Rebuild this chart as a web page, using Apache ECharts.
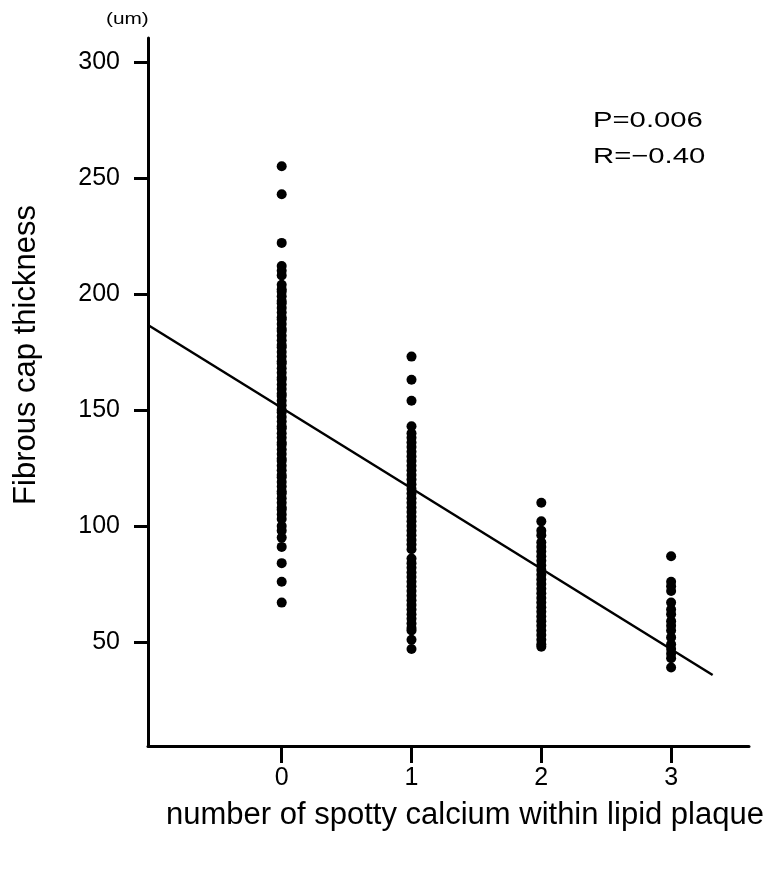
<!DOCTYPE html>
<html>
<head>
<meta charset="utf-8">
<script src="https://cdn.jsdelivr.net/npm/echarts@6/dist/echarts.min.js"></script>
<style>html,body{margin:0;padding:0;background:#fff}#c{width:782px;height:875px}</style>
</head>
<body>
<div id="c"></div>
<script>
const xTicks = [0, 1, 2, 3];
const yTicks = [50, 100, 150, 200, 250, 300];
const col0 = [255, 243, 222, 212, 210, 208, 204, 202, 201, 199, 197, 196, 194, 192, 190, 189, 187, 185, 184, 182, 180, 178, 177, 175, 173, 171, 170, 168, 166, 164, 163, 161, 159, 157, 156, 154, 152, 150, 149, 147, 145, 143, 142, 140, 138, 136, 135, 133, 131, 129, 128, 126, 124, 122, 121, 119, 117, 115, 114, 112, 110, 108, 107, 105, 103, 100, 98, 95, 91, 84, 76, 67];
const col1 = [173, 163, 154, 143, 140, 138, 136, 134, 132, 130, 128, 126, 124, 122, 120, 118, 116, 114, 112, 110, 108, 106, 104, 102, 100, 98, 96, 94, 92, 90, 86, 84, 82, 80, 78, 76, 74, 72, 70, 68, 66, 64, 62, 60, 58, 56, 55, 51, 47];
const col2 = [110, 102, 98, 96, 93, 91, 89, 87, 85, 83, 81, 79, 77, 75, 73, 71, 69, 67, 65, 63, 61, 59, 57, 55, 53, 51, 49, 48];
const col3 = [87, 76, 74, 72, 67, 64, 62, 59, 57, 55, 52, 49, 47, 45, 43, 39];
const fitX = [-1.03, 3.32];
const fitY = [186.6, 35.8];
const stats = ['P=0.006', 'R=\u22120.40'];

const pts = [];
[col0, col1, col2, col3].forEach((col, i) => col.forEach(v => pts.push([xTicks[i], v])));

const FONT = 'Liberation Sans, Arial, sans-serif';
const chart = echarts.init(document.getElementById('c'));
chart.setOption({
  animation: false,
  grid: { left: 148, right: 33, top: 38, bottom: 129 },
  xAxis: {
    type: 'value', min: -1.03, max: 3.6,
    splitLine: { show: false },
    axisLine: { onZero: false, lineStyle: { color: '#000', width: 3 } },
    axisTick: { customValues: xTicks, length: 17, lineStyle: { color: '#000', width: 3 } },
    axisLabel: { customValues: xTicks, margin: 20, color: '#000', fontSize: 25, fontFamily: FONT },
    name: 'number of spotty calcium within lipid plaque',
    nameLocation: 'middle', nameGap: 54,
    nameTextStyle: { color: '#000', fontSize: 31, fontFamily: FONT, padding: [0, 0, 0, 33] }
  },
  yAxis: {
    type: 'value', min: 5.2, max: 310.3,
    splitLine: { show: false },
    axisLine: { onZero: false, lineStyle: { color: '#000', width: 3 } },
    axisTick: { customValues: yTicks, length: 14, lineStyle: { color: '#000', width: 3 } },
    axisLabel: { customValues: yTicks, margin: 28, color: '#000', fontSize: 25, fontFamily: FONT },
    name: 'Fibrous cap thickness',
    nameLocation: 'middle', nameGap: 106, nameRotate: 90,
    nameTextStyle: { color: '#000', fontSize: 31, fontFamily: FONT, padding: [0, 0, 0, 74] }
  },
  graphic: [
    { type: 'text', left: 106, top: 12, scaleX: 1.3, style: { text: '(um)', fontSize: 16, fontFamily: FONT, fill: '#000' } },
    { type: 'text', left: 593, top: 110, scaleX: 1.33, style: { text: stats[0], fontSize: 22, fontFamily: FONT, fill: '#000' } },
    { type: 'text', left: 593, top: 146, scaleX: 1.33, style: { text: stats[1], fontSize: 22, fontFamily: FONT, fill: '#000' } }
  ],
  series: [
    { type: 'scatter', data: pts, symbolSize: 10, itemStyle: { color: '#000', opacity: 1 } },
    { type: 'line', data: fitX.map((x, i) => [x, fitY[i]]), showSymbol: false, lineStyle: { color: '#000', width: 2.5 } }
  ]
});
</script>
</body>
</html>
